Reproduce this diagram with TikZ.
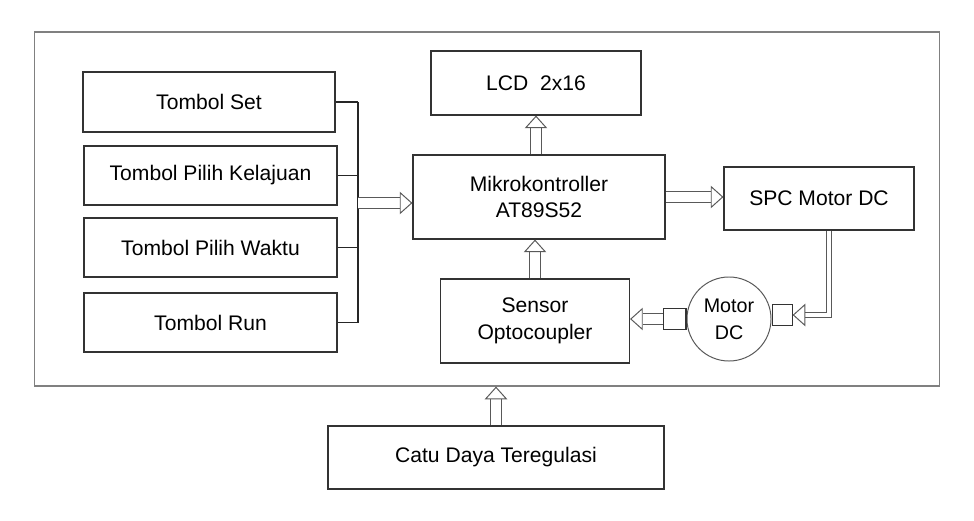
\documentclass[tikz,border=0pt]{standalone}
\usepackage{fontspec}
\setmainfont{Liberation Sans}
\usetikzlibrary{arrows.meta}

\begin{document}
\begin{tikzpicture}[x=0.025cm,y=-0.025cm,
    blok/.style={draw=black!80,line width=0.8pt,fill=white,align=center,inner sep=0pt,
                 font=\fontsize{15}{19}\selectfont},
    garis/.style={draw=black!85,line width=0.8pt},
    panah/.style={draw=black!65,line width=0.7pt,double=white,double distance=6.5pt,
                  -{Triangle[open,fill=white,length=9pt,width=16pt,line width=0.7pt]}},
    panahkecil/.style={panah,double distance=3pt}]
\useasboundingbox (0,0) rectangle (974,520);
% Frame
    \node[draw=black!50,line width=0.8pt,minimum width=22.6cm,minimum height=8.85cm,inner sep=0pt] (papan) at (487,209) {};
% Blocks
    \node[blok,minimum width=6.3cm,minimum height=1.5cm] (set) at (209,102) {Tombol Set};
    \node[blok,minimum width=6.325cm,minimum height=1.475cm] (pilih) at (210.5,175.5) {Tombol Pilih Kelajuan};
    \node[blok,minimum width=6.325cm,minimum height=1.475cm] (waktu) at (210.5,247.5) {Tombol Pilih Waktu};
    \node[blok,minimum width=6.325cm,minimum height=1.475cm] (run) at (210.5,322.5) {Tombol Run};
    \node[blok,minimum width=5.25cm,minimum height=1.6cm] (lcd) at (536,83) {LCD\ \ 2x16};
    \node[blok,minimum width=6.3cm,minimum height=2.1cm] (mikro) at (539,197) {Mikrokontroller\\AT89S52};
    \node[blok,minimum width=4.75cm,minimum height=1.575cm] (spc) at (819,198.5) {SPC Motor DC};
    \node[blok,minimum width=4.725cm,minimum height=2.1cm] (sensor) at (535,321) {Sensor\\Optocoupler};
    \node[blok,draw=black!65,line width=0.7pt,circle,minimum size=2.1cm,font=\fontsize{14}{19}\selectfont] (motor) at (729,319) {Motor\\DC};
    \node[blok,minimum width=0.55cm,minimum height=0.525cm,anchor=east] (kotakkiri) at (motor.west) {};
    \node[blok,minimum width=0.5cm,minimum height=0.525cm,anchor=west] (kotakkanan) at ([yshift=0.1cm]motor.east) {};
    \node[blok,minimum width=8.4cm,minimum height=1.575cm] (catu) at (496,457.5) {Catu Daya Teregulasi};
% Bus
    \coordinate (bus) at (358,203);
    \foreach \n in {set,pilih,waktu,run}
        \draw[garis] (\n.east) -- (\n.east -| bus);
    \draw[garis] (bus |- set.east) -- (bus |- run.east);
% Arrows
    \draw[panah] (bus) -- (bus -| mikro.west);
    \draw[panah] (mikro.north -| lcd.south) -- (lcd.south);
    \draw[panah] (mikro.east) -- (mikro.east -| spc.west);
    \draw[panah] (sensor.north) -- (sensor.north |- mikro.south);
    \draw[panah] (kotakkiri.west) -- (kotakkiri.west -| sensor.east);
    \draw[panahkecil] ([xshift=0.25cm]spc.south) |- (kotakkanan.east);
    \draw[panah] (catu.north) -- (catu.north |- papan.south);
\end{tikzpicture}
\end{document}
